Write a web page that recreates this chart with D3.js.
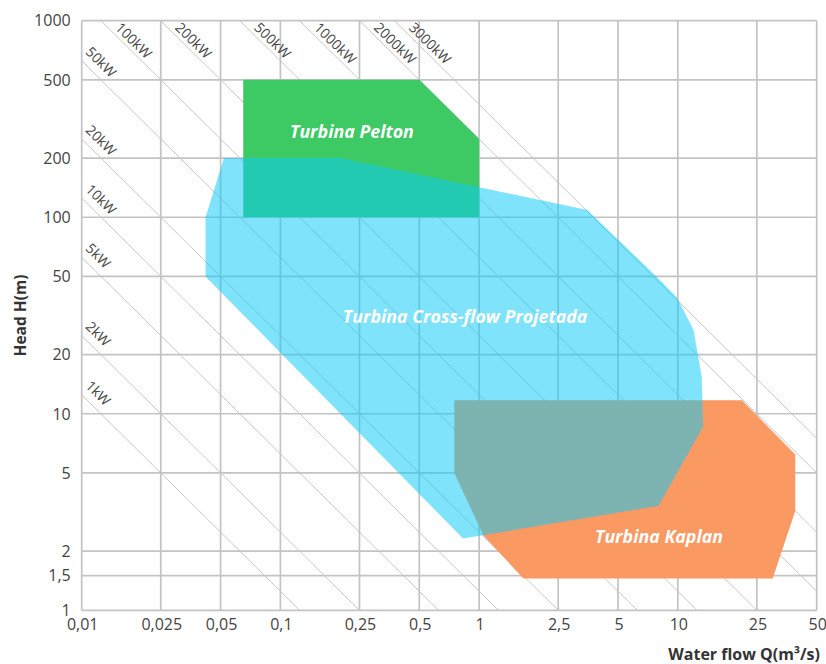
<!DOCTYPE html>
<html><head><meta charset="utf-8">
<script src="https://cdn.jsdelivr.net/npm/d3@7"></script>
<style>body{margin:0;background:#fff} svg{display:block}</style>
</head><body><svg id="c" width="826" height="664"></svg>
<script>
// ---- data ----
const xTicks = [0.01, 0.025, 0.05, 0.1, 0.25, 0.5, 1, 2.5, 5, 10, 25, 50];
const xTickLabels = ["0,01", "0,025", "0,05", "0,1", "0,25", "0,5", "1", "2,5", "5", "10", "25", "50"];
const yTicks = [1, 1.5, 2, 5, 10, 20, 50, 100, 200, 500, 1000];
const yTickLabels = ["1", "1,5", "2", "5", "10", "20", "50", "100", "200", "500", "1000"];
// constant-power lines, value of Q*H on each line
const powerLabels = ["1kW", "2kW", "5kW", "10kW", "20kW", "50kW", "100kW", "200kW", "500kW", "1000kW", "2000kW", "3000kW"];
const powerQH = [0.125, 0.25, 0.625, 1.25, 2.5, 6.25, 12.5, 25, 62.5, 125, 250, 375];
// turbine regions [Q (m3/s), H (m)]
const pelton = [[0.065, 500], [0.5, 500], [1, 250], [1, 100], [0.065, 100]];
const kaplan = [[0.75, 11.7], [21, 11.7], [39, 6.2], [39, 3.2], [30, 1.45], [1.67, 1.45], [1.05, 2.41], [0.75, 5]];
const crossflow = [[0.052, 200], [0.2, 200], [3.5, 109], [7.8, 50], [9.9, 39], [12, 26.7], [13.2, 15.4], [13.4, 8.6], [8, 3.4], [0.83, 2.32], [0.042, 50], [0.042, 100]];
const regionNames = ["Turbina Pelton", "Turbina Cross-flow Projetada", "Turbina Kaplan"];
const regionLabelAt = [[0.229, 252], [0.85, 29], [8.04, 2.19]];

// ---- layout ----
const W = 826, H = 664;
const m = {left: 81.7, right: 9.3, top: 20.7, bottom: 53.7};
const x = d3.scaleLog().domain([0.01, 50]).range([m.left, W - m.right]);
const y = d3.scaleLog().domain([1, 1000]).range([H - m.bottom, m.top]);
const svg = d3.select('#c');
const font = "'Open Sans', 'DejaVu Sans', sans-serif";

svg.append('defs').append('clipPath').attr('id', 'plot').append('rect')
  .attr('x', x(0.01)).attr('y', y(1000))
  .attr('width', x(50) - x(0.01)).attr('height', y(1) - y(1000));

const angle = Math.atan2(y(1) - y(10), x(10) - x(1)) * 180 / Math.PI;

// diagonals
const gDiag = svg.append('g').attr('clip-path', 'url(#plot)');
gDiag.selectAll('line').data(powerQH).join('line')
  .attr('x1', k => x(0.002)).attr('y1', k => y(k / 0.002))
  .attr('x2', k => x(200)).attr('y2', k => y(k / 200))
  .attr('stroke', '#c8c8c8').attr('stroke-width', 1);

// grid
const gGrid = svg.append('g');
gGrid.selectAll('line.v').data(xTicks).join('line').attr('class', 'v')
  .attr('x1', d => x(d)).attr('x2', d => x(d))
  .attr('y1', y(1)).attr('y2', y(1000))
  .attr('stroke', '#c3c3c3').attr('stroke-width', 1.7);
gGrid.selectAll('line.h').data(yTicks).join('line').attr('class', 'h')
  .attr('y1', d => y(d)).attr('y2', d => y(d))
  .attr('x1', x(0.01)).attr('x2', x(50))
  .attr('stroke', '#c3c3c3').attr('stroke-width', 1.7);

// regions
const poly = d3.line().x(d => x(d[0])).y(d => y(d[1])).curve(d3.curveLinearClosed);
svg.append('path').attr('d', poly(pelton)).attr('fill', '#3dc964');
svg.append('path').attr('d', poly(kaplan)).attr('fill', '#fa9962');
svg.append('path').attr('d', poly(crossflow)).attr('fill', '#0dcaf7').attr('fill-opacity', 0.53);

// region labels
svg.selectAll('text.reg').data(regionNames).join('text').attr('class', 'reg')
  .attr('x', (d, i) => x(regionLabelAt[i][0]))
  .attr('y', (d, i) => y(regionLabelAt[i][1]))
  .attr('text-anchor', 'middle')
  .attr('font-family', font).attr('font-weight', 'bold').attr('font-style', 'italic')
  .attr('font-size', 17.8).attr('fill', '#ffffff')
  .text(d => d);

// power labels
svg.selectAll('text.pw').data(powerQH).join('text').attr('class', 'pw')
  .attr('transform', k => {
    const left = k / 0.01 <= 1000;
    const px = left ? x(0.01) : x(k / 1000);
    const py = left ? y(k / 0.01) : y(1000);
    return `translate(${px},${py}) rotate(${angle})`;
  })
  .attr('x', k => (k / 0.01 <= 1000) ? -3.5 : 15)
  .attr('y', k => (k / 0.01 <= 1000) ? -7.8 : -4)
  .attr('font-family', font).attr('font-size', 14).attr('fill', '#444')
  .text((k, i) => powerLabels[i]);

// tick labels
svg.selectAll('text.xt').data(xTicks).join('text').attr('class', 'xt')
  .attr('x', d => x(d) + 1).attr('y', y(1) + 20)
  .attr('text-anchor', 'middle')
  .attr('font-family', font).attr('font-size', 16).attr('fill', '#444')
  .text((d, i) => xTickLabels[i]);
svg.selectAll('text.yt').data(yTicks).join('text').attr('class', 'yt')
  .attr('x', x(0.01) - 11).attr('y', d => y(d)).attr('dy', '0.36em')
  .attr('text-anchor', 'end')
  .attr('font-family', font).attr('font-size', 16).attr('fill', '#444')
  .text((d, i) => yTickLabels[i]);

// axis titles
svg.append('text')
  .attr('transform', `translate(25.5,${(y(1) + y(1000)) / 2}) rotate(-90)`)
  .attr('text-anchor', 'middle')
  .attr('font-family', font).attr('font-weight', 'bold').attr('font-size', 15.5).attr('fill', '#333')
  .text('Head H(m)');
svg.append('text')
  .attr('x', 820).attr('y', 660).attr('text-anchor', 'end')
  .attr('font-family', font).attr('font-weight', 'bold').attr('font-size', 16).attr('fill', '#333')
  .text('Water flow Q(m³/s)');
</script></body></html>
